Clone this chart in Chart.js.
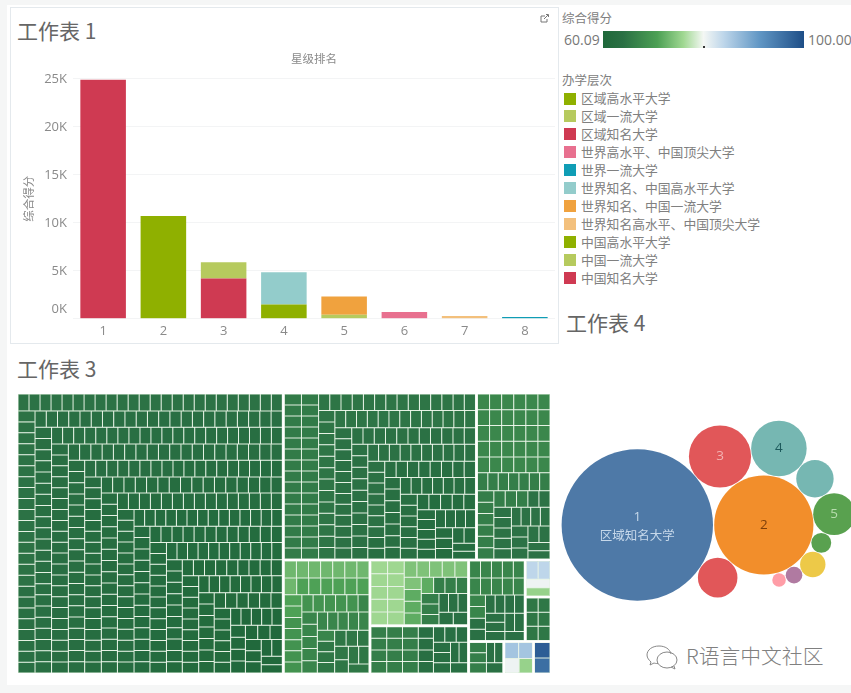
<!DOCTYPE html>
<html lang="zh"><head><meta charset="utf-8">
<script src="https://cdn.jsdelivr.net/npm/chart.js@4"></script>
<style>
html,body{margin:0;padding:0;background:#fff}
#root{position:relative;width:851px;height:693px;overflow:hidden;background:#f5f6f6;font-family:"Noto Sans CJK SC","Noto Sans",sans-serif;filter:blur(.45px)}
#root canvas{position:absolute;display:block}
.abs{position:absolute;white-space:nowrap}
.ttl{font-size:21px;line-height:26px;color:#666;font-family:"Noto Sans CJK SC",sans-serif}
.leg{font-size:12.8px;line-height:16px;color:#808080}
.num{font-family:"Open Sans",sans-serif;font-size:14px;line-height:18px;color:#777}
</style></head><body>
<div id="root">
<div class="abs" style="left:7px;top:5px;width:844px;height:680px;background:#fff"></div>
<div class="abs" style="left:10px;top:7px;width:547px;height:335px;border:1px solid #e4e9ed"></div>
<div class="abs ttl" style="left:17px;top:17px">工作表 1</div>
<div class="abs ttl" style="left:17px;top:355px">工作表 3</div>
<div class="abs ttl" style="left:566px;top:309px">工作表 4</div>
<svg class="abs" style="left:539px;top:13px" width="11" height="11" viewBox="0 0 11 11" fill="none" stroke="#777" stroke-width="1"><path d="M6 3H2v6h6V6M5 6l4-4M7 1.5h2.5V4"/></svg>
<div class="abs leg" style="left:562px;top:10px;font-size:12.5px">综合得分</div>
<div class="abs num" style="left:564px;top:31px">60.09</div>
<div class="abs" id="ramp" style="left:603px;top:31px;width:201px;height:17px"></div>
<div class="abs" style="left:703px;top:46px;width:2px;height:2px;background:#333"></div>
<div class="abs num" style="left:808px;top:31px">100.00</div>
<div class="abs leg" style="left:562px;top:72px;font-size:12.5px">办学层次</div>
<div id="legend"></div>
<canvas id="bars" width="548" height="298" style="left:10px;top:45px"></canvas>
<canvas id="tree" width="534" height="281" style="left:17px;top:393px"></canvas>
<canvas id="packed" width="296" height="205" style="left:555px;top:410px"></canvas>
<svg class="abs" style="left:644px;top:643px" width="40" height="28" viewBox="0 0 40 28" fill="none" stroke="#888" stroke-width="1"><path d="M15 3C8 3 3 7 3 12c0 3 2 5 4 7l-1 3 4-2c1 .4 2 .5 4 .6M15 3c6 0 11 3 12 8"/><ellipse cx="23" cy="17" rx="10" ry="8"/><path d="M30 23l1 3-4-2"/></svg>
<div class="abs" style="left:686px;top:640px;font-size:20.8px;line-height:30px;color:#808080;font-weight:300">R语言中文社区</div>
</div>
<script>
// ---- Bar chart data ----
const starLabels = ['1','2','3','4','5','6','7','8'];
const levelNames = ['区域高水平大学','区域一流大学','区域知名大学','世界高水平、中国顶尖大学','世界一流大学','世界知名、中国高水平大学','世界知名、中国一流大学','世界知名高水平、中国顶尖大学','中国高水平大学','中国一流大学','中国知名大学'];
const levelColors = ['#8fb000','#b6ca5e','#cf3a52','#e8708f','#0f9db5','#93cccb','#f0a23e','#f3c07c','#8fb000','#b6ca5e','#cf3a52'];
const regionHigh   = [0,10700,0,0,0,0,0,0];
const regionFirst  = [0,0,1700,0,0,0,0,0];
const regionKnown  = [24900,0,0,0,0,0,0,0];
const worldHigh    = [0,0,0,0,0,700,0,0];
const worldFirst   = [0,0,0,0,0,0,0,200];
const worldKnownA  = [0,0,0,3350,0,0,0,0];
const worldKnownB  = [0,0,0,0,1900,0,0,0];
const worldKnownC  = [0,0,0,0,0,0,300,0];
const chinaHigh    = [0,0,0,1500,0,0,0,0];
const chinaFirst   = [0,0,0,0,430,0,0,0];
const chinaKnown   = [0,0,4200,0,0,0,0,0];
const levelSeries = [regionHigh,regionFirst,regionKnown,worldHigh,worldFirst,worldKnownA,worldKnownB,worldKnownC,chinaHigh,chinaFirst,chinaKnown];
const yTicks = [0,5000,10000,15000,20000,25000];

// ---- Treemap data: [score, number of universities read at about that score] ----
const groupA = [[64.4,40],[63.8,60],[63.2,80],[62.6,90],[62,71],[61.4,45],[60.8,20]];
const groupB = [[65.6,30],[64.8,40],[64.2,50],[63.4,30],[62.4,21]];
const groupC = [[67.4,30],[66,16],[64.4,18]];
const groupD = [[73,8],[71,8],[69,10],[67,12],[65,11]];
const groupE = [[76,10],[74,6],[72,4],[66,6],[64,5]];
const groupF = [[66,12],[63.5,13]];
const groupG = [[67,12],[64,12]];
const groupH = [[84,2],[80.5,1],[75.5,1]];
const groupI = [[65,6]];
const groupJ = [[66,3],[64,3]];
const groupK = [[86,2],[80.5,1],[75.5,1]];
const groupL = [[98,1],[96,1]];
const treeNesting = [groupA,[[groupB,groupC],[groupD,[groupE,groupF],[[groupG,[groupH,groupI]],[groupJ,groupK,groupL]]]]];
const scoreMin = 60.09, scoreMax = 100;

// ---- Packed bubbles: values, and which two earlier bubbles each one touches ----
const bubbleValues = [24900,10700,4200,3350,1520,1900,430,1700,700,300,200];
const bubbleColors = ['#4e79a7','#f28e2b','#e15759','#76b7b2','#76b7b2','#59a14f','#59a14f','#e15759','#edc948','#b07aa1','#ff9da7'];
const bubbleTouch  = [null,null,[0,1],[2,1],[3,1],[4,1],[5,1],[1,0],[6,1],[8,1],[9,1]];
const bubbleText   = [['1','区域知名大学'],['2'],['3'],['4'],[],['5'],[],[],[],[],[]];
const bubbleTextColor = ['#c6d8ea','#7d3f0a','#f3b3b3','#1d5a5c','','#b7dcae','','','','',''];

Chart.defaults.animation = false;
Chart.defaults.events = [];
Chart.defaults.plugins.legend.display = false;
Chart.defaults.plugins.tooltip.enabled = false;
Chart.defaults.layout.autoPadding = false;
const cjk = '"Noto Sans CJK SC",sans-serif', latin = '"Open Sans",sans-serif';

// Legend and colour ramp
const legendEl = document.getElementById('legend');
levelNames.forEach((n,i)=>{
  const cy = 98.5 + i*17.95;
  legendEl.insertAdjacentHTML('beforeend',
   `<div class="abs" style="left:564px;top:${cy-6}px;width:12px;height:12px;background:${levelColors[i]}"></div>`+
   `<div class="abs leg" style="left:581px;top:${cy-8.5}px">${n}</div>`);
});
const rampStops = [[0,[31,104,58]],[.1,[42,112,68]],[.27,[76,160,84]],[.4,[160,216,146]],[.5,[244,247,244]],[.6,[190,214,234]],[.78,[96,150,196]],[1,[30,78,135]]];
document.getElementById('ramp').style.background =
  'linear-gradient(90deg,'+rampStops.map(s=>`rgb(${s[1]}) ${s[0]*100}%`).join(',')+')';
function scoreColor(v){
  const t = Math.min(1,Math.max(0,(v-scoreMin)/(scoreMax-scoreMin)));
  for(let i=1;i<rampStops.length;i++){
    if(t<=rampStops[i][0]){
      const a=rampStops[i-1],b=rampStops[i],f=(t-a[0])/(b[0]-a[0]);
      return 'rgb('+a[1].map((c,k)=>Math.round(c+(b[1][k]-c)*f)).join(',')+')';
    }
  }
  return 'rgb(30,78,135)';
}

// Worksheet 1: stacked bars (first legend entry stacks on top)
const barDatasets = levelNames.map((n,i)=>({label:n,data:levelSeries[i],backgroundColor:levelColors[i],
   barPercentage:.756,categoryPercentage:1})).reverse();
new Chart(document.getElementById('bars'),{
  type:'bar',
  data:{labels:starLabels,datasets:barDatasets},
  options:{responsive:false,
    layout:{padding:{left:0,right:3,top:0,bottom:0}},
    plugins:{title:{display:true,text:'星级排名',fullSize:false,color:'#8a8a8a',
        font:{family:cjk,size:11.5,weight:'normal'},padding:{top:7,bottom:13}}},
    scales:{
      x:{stacked:true,grid:{display:false},border:{display:false},
         ticks:{color:'#8a8a8a',font:{family:latin,size:13},padding:-3,maxRotation:0},
         afterFit:s=>{s.height=24}},
      y:{stacked:true,min:0,max:25000,
         afterBuildTicks:s=>{s.ticks=yTicks.map(v=>({value:v}))},
         grid:{color:'#f3f4f5',drawTicks:false},border:{display:false},
         title:{display:true,text:'综合得分',color:'#8a8a8a',font:{family:cjk,size:11.5},padding:{top:12,bottom:0}},
         ticks:{color:'#8a8a8a',font:{family:latin,size:13,lineHeight:1.4},padding:6,
           callback:v=>v===0?['0K','']:(v/1000)+'K'},
         afterFit:s=>{s.width=63}}
    }}
});

// Worksheet 3: treemap, sizes and colours both follow the score
const boxW = 534, boxH = 281, stripShape = 1.5, groupGap = 1;
const expand = g => g.flatMap(([score,n])=>Array(n).fill(score));
const isLeaf = n => typeof n[0][0]==='number';
const total = n => isLeaf(n) ? expand(n).reduce((a,b)=>a+b,0) : n.reduce((a,c)=>a+total(c),0);
const cells = [];
function layStrips(vals,r){
  const k = r.w*r.h/vals.reduce((a,b)=>a+b,0);
  let i=0;
  const worst=(a,L)=>{const s=a.reduce((p,q)=>p+q,0),t=s/L;
     return Math.max(...a.map(c=>{const al=c/t;return Math.max(t/al/stripShape,stripShape*al/t)}))};
  while(i<vals.length){
    const across = r.w<r.h, L = across?r.w:r.h;
    const row=[vals[i]*k]; let j=i+1;
    while(j<vals.length){
      const next=[...row,vals[j]*k];
      if(worst(next,L)>worst(row,L)) break;
      row.push(vals[j]*k); j++;
    }
    const t=row.reduce((p,q)=>p+q,0)/L; let pos=0;
    row.forEach((a,m)=>{const al=a/t;
      cells.push(across?{x0:r.x+pos,x1:r.x+pos+al,y0:r.y,y1:r.y+t,score:vals[i+m]}
                       :{x0:r.x,x1:r.x+t,y0:r.y+pos,y1:r.y+pos+al,score:vals[i+m]});
      pos+=al;});
    if(across){r={x:r.x,y:r.y+t,w:r.w,h:r.h-t}}else{r={x:r.x+t,y:r.y,w:r.w-t,h:r.h}}
    i=j;
  }
}
function layNode(n,r,depth){
  if(isLeaf(n)){
    layStrips(expand(n),{x:r.x+groupGap,y:r.y+groupGap,w:r.w-2*groupGap,h:r.h-2*groupGap});
    return;
  }
  const sum=total(n); let pos=0;
  n.forEach(c=>{const f=total(c)/sum;
    if(depth%2===0){layNode(c,{x:r.x+pos,y:r.y,w:r.w*f,h:r.h},depth+1);pos+=r.w*f}
    else{layNode(c,{x:r.x,y:r.y+pos,w:r.w,h:r.h*f},depth+1);pos+=r.h*f}});
}
layNode(treeNesting,{x:0,y:0,w:boxW,h:boxH},0);

class TreemapController extends Chart.DatasetController{
  update(mode){const m=this._cachedMeta;this.updateElements(m.data,0,m.data.length,mode)}
  updateElements(els,start,count,mode){
    const m=this._cachedMeta,xs=m.xScale,ys=m.yScale,data=this.getDataset().data;
    for(let i=start;i<start+count;i++){
      const d=data[i],x0=xs.getPixelForValue(d.x0),x1=xs.getPixelForValue(d.x1),
            y0=ys.getPixelForValue(d.y0),y1=ys.getPixelForValue(d.y1);
      this.updateElement(els[i],i,{x:(x0+x1)/2,y:y0,base:y1,width:x1-x0,height:y1-y0,horizontal:false,
        borderSkipped:{top:false,bottom:false,left:false,right:false},enableBorderRadius:false,inflateAmount:0,
        options:this.resolveDataElementOptions(i,mode)},mode);
    }
  }
}
TreemapController.id='treemap';
TreemapController.defaults={dataElementType:'bar'};
Chart.register(TreemapController);
new Chart(document.getElementById('tree'),{
  type:'treemap',
  data:{datasets:[{label:'综合得分',data:cells,parsing:false,normalized:true,
    backgroundColor:ctx=>scoreColor(ctx.raw.score),borderColor:'#c8e4c4',borderWidth:.5,inflateAmount:0,borderRadius:0}]},
  options:{responsive:false,layout:{padding:0},
    scales:{x:{type:'linear',display:false,min:0,max:boxW},y:{type:'linear',display:false,min:0,max:boxH,reverse:true}}}
});

// Worksheet 4: packed bubbles, each placed touching two earlier ones
const bubbleScale = .2301, bubbleGap = .6;
const radii = bubbleValues.map(v=>Math.sqrt(v*bubbleScale));
const centers = [{x:0,y:0},{x:radii[0]+radii[1]+bubbleGap*2,y:0}];
for(let i=2;i<radii.length;i++){
  const [p,q]=bubbleTouch[i],A=centers[p],B=centers[q],
        ra=radii[p]+radii[i]+bubbleGap,rb=radii[q]+radii[i]+bubbleGap,
        dx=B.x-A.x,dy=B.y-A.y,d=Math.hypot(dx,dy),
        a=(ra*ra-rb*rb+d*d)/(2*d),h=Math.sqrt(Math.max(0,ra*ra-a*a));
  centers.push({x:A.x+a*dx/d+h*dy/d,y:A.y+a*dy/d-h*dx/d});
}
new Chart(document.getElementById('packed'),{
  type:'bubble',
  data:{datasets:[{label:'综合得分',data:centers.map((c,i)=>({x:c.x,y:c.y,r:radii[i]})),
     backgroundColor:bubbleColors,borderWidth:0,clip:false}]},
  options:{responsive:false,layout:{padding:0},
    scales:{x:{display:false,min:-82.3,max:213.7},y:{display:false,min:-115,max:90,reverse:true}}},
  plugins:[{id:'bubbleText',afterDatasetsDraw(chart){
    const ctx=chart.ctx,els=chart.getDatasetMeta(0).data;
    ctx.save();ctx.textAlign='center';ctx.textBaseline='middle';
    els.forEach((el,i)=>{
      const lines=bubbleText[i];
      ctx.fillStyle=bubbleTextColor[i];
      lines.forEach((t,k)=>{
        ctx.font=(k?'12.5px '+cjk:'13.5px '+latin);
        const off=lines.length>1?(k?10:-8):0;
        ctx.fillText(t,el.x,el.y+off);
      });
    });
    ctx.restore();
  }}]
});
</script>
</body></html>
